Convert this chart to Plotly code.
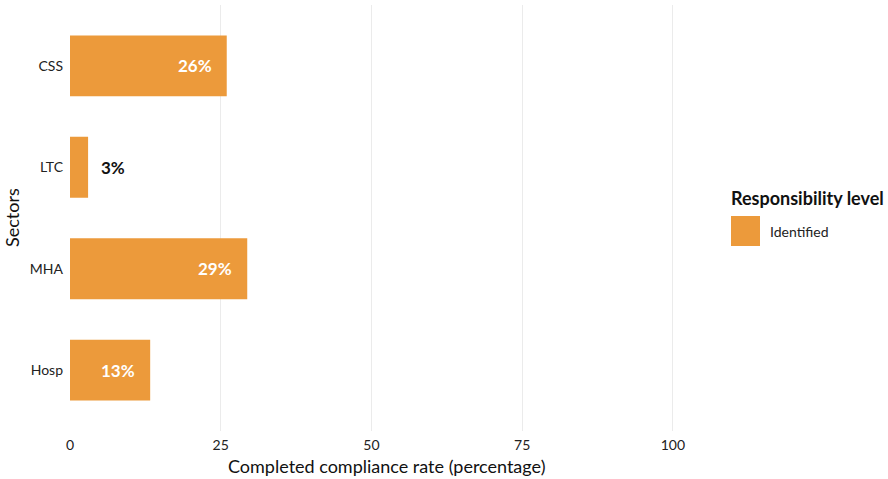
import plotly.graph_objects as go

sectors = ["CSS", "LTC", "MHA", "Hosp"]
rates = [26.0, 3.0, 29.4, 13.3]
labels = ["26%", "3%", "29%", "13%"]
x_ticks = [0, 25, 50, 75, 100]
series_name = "Identified"
legend_title = "Responsibility level"
x_title = "Completed compliance rate (percentage)"
y_title = "Sectors"

BAR_COLOR = "#EC9A3B"
FONT = "Lato, 'Noto Sans', sans-serif"

W, H = 888, 479
L, R, T, B = 70, 703, 5, 431  # plot area in pixels


def fx(p):  # pixel x -> paper
    return (p - L) / (R - L)


def fy(p):  # pixel y -> paper
    return (B - p) / (B - T)


fig = go.Figure()
fig.add_trace(go.Bar(
    y=sectors, x=rates, orientation="h", width=0.6,
    marker=dict(color=BAR_COLOR, line=dict(width=0)),
    name=series_name, showlegend=False, hoverinfo="skip",
))

for s, v, lab in zip(sectors, rates, labels):
    inside = v >= 10
    fig.add_annotation(
        x=v, y=s, xref="x", yref="y", text=f"<b>{lab}</b>", showarrow=False,
        xanchor="right" if inside else "left", xshift=-13 if inside else 11,
        font=dict(family=FONT, size=17, color="white" if inside else "#111111"),
    )

# legend (drawn manually to match the large key)
fig.add_shape(type="rect", xref="paper", yref="paper",
              x0=fx(731), x1=fx(760), y0=fy(246), y1=fy(216),
              fillcolor=BAR_COLOR, line=dict(width=0))
fig.add_annotation(x=fx(729), y=fy(198), xref="paper", yref="paper",
                   text=f"<b>{legend_title}</b>", showarrow=False, xanchor="left", yanchor="middle",
                   font=dict(family=FONT, size=18, color="#111111"))
fig.add_annotation(x=fx(768), y=fy(231), xref="paper", yref="paper",
                   text=series_name, showarrow=False, xanchor="left", yanchor="middle",
                   font=dict(family=FONT, size=14, color="#222222"))

# axis titles
fig.add_annotation(x=0.5, y=fy(466), xref="paper", yref="paper", text=x_title,
                   showarrow=False, xanchor="center", yanchor="middle",
                   font=dict(family=FONT, size=18, color="#111111"))
fig.add_annotation(x=fx(12), y=fy(218), xref="paper", yref="paper", text=y_title,
                   showarrow=False, textangle=-90, xanchor="center", yanchor="middle",
                   font=dict(family=FONT, size=18, color="#111111"))

fig.update_layout(
    width=W, height=H,
    margin=dict(l=L, r=W - R, t=T, b=H - B, autoexpand=False),
    plot_bgcolor="white", paper_bgcolor="white",
    font=dict(family=FONT, size=14, color="#222222"),
    showlegend=False,
    xaxis=dict(
        range=[0, 105], tickvals=x_ticks, showgrid=True, gridcolor="#EBEBEB", gridwidth=1,
        zeroline=False, showline=False, ticks="", ticklabelstandoff=4, automargin=False,
        tickfont=dict(size=14, color="#222222"),
    ),
    yaxis=dict(
        categoryorder="array", categoryarray=sectors[::-1], range=[-0.6, 3.6],
        showgrid=False, zeroline=False, showline=False, ticks="", ticklabelstandoff=6,
        automargin=False, tickfont=dict(size=14, color="#222222"),
    ),
)

fig.write_html(
    "out.html",
    config={"displayModeBar": False},
    post_script="document.body.style.margin='0';document.body.style.overflow='hidden';",
)
